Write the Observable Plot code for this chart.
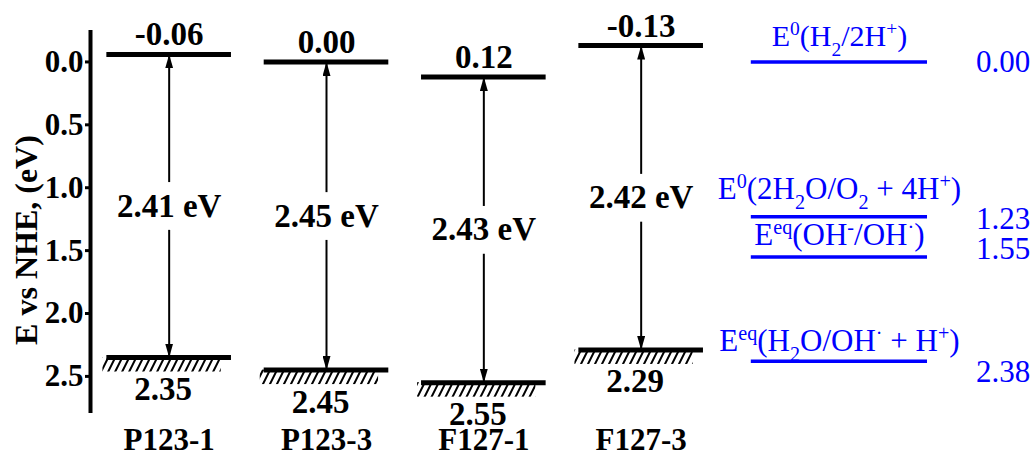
<!DOCTYPE html>
<html><head><meta charset="utf-8">
<script src="https://cdn.jsdelivr.net/npm/d3@7"></script>
<script src="https://cdn.jsdelivr.net/npm/@observablehq/plot@0.6"></script>
<style>
body{margin:0;background:#fff;}
#chart svg{display:block;}
#chart svg, #chart svg text, #chart svg tspan {font-family:"Liberation Serif","Times New Roman",serif !important;}
g[aria-label="y-axis"] text, g[aria-label="y-axis tick label"] text {font-size:31px;}
g[aria-label="y-axis"] line, g[aria-label="y-axis tick"] path {stroke-width:3px;}
</style></head><body>
<svg width="0" height="0" style="position:absolute">
<defs>
<pattern id="hatch" patternUnits="userSpaceOnUse" width="7" height="14">
<path d="M0,14 L7,0 M-1,2 L1,-2 M6,16 L8,12" stroke="#000" stroke-width="2"/>
</pattern>
<marker id="ah" viewBox="0 0 14 8" refX="14" refY="4" markerWidth="14" markerHeight="8" markerUnits="userSpaceOnUse" orient="auto">
<path d="M0,0 L14,4 L0,8 Z" fill="#000"/>
</marker>
</defs></svg>
<div id="chart"></div>
<script>
// ---- data ----
const samples = ["P123-1", "P123-3", "F127-1", "F127-3"];
const cbEnergy = [-0.06, 0.00, 0.12, -0.13];
const vbEnergy = [2.35, 2.45, 2.55, 2.29];
const cbLabels = ["-0.06", "0.00", "0.12", "-0.13"];
const vbLabels = ["2.35", "2.45", "2.55", "2.29"];
const gapLabels = ["2.41 eV", "2.45 eV", "2.43 eV", "2.42 eV"];
const refNames = [
  "E^{0}(H_{2}/2H^{+})",
  "E^{0}(2H_{2}O/O_{2} + 4H^{+})",
  "E^{eq}(OH^{-}/OH^{·})",
  "E^{eq}(H_{2}O/OH^{·} + H^{+})"
];
const refEnergy = [0.00, 1.23, 1.55, 2.38];
const refLabels = ["0.00", "1.23", "1.55", "2.38"];
const yTicks = [0, 0.5, 1.0, 1.5, 2.0, 2.5];
const yTitle = "E vs NHE, (eV)";

// ---- layout / style ----
const blue = "#0000ff";
const serif = "Liberation Serif, Times New Roman, serif";
const idx = d3.range(samples.length);
const refIdx = d3.range(refNames.length);
const halfW = 0.396;
const gap = 0.19;
const mid = i => (cbEnergy[i] + vbEnergy[i]) / 2;
const xDomain = [-0.5, 5.5];
const yDomain = [-0.25, 2.795];
const refX1 = 3.7, refX2 = 4.82, refValX = 5.3;
const refNameDy = [-16, -18, -12, -10];
const refValDy = [0, 2, -8, 11];
const refNameSize = [30, 31, 31, 31];

const marks = [
  Plot.rect(idx, {x1: i => i - halfW - 0.025, x2: i => i + halfW - 0.065,
    y1: i => vbEnergy[i], y2: i => vbEnergy[i] + 0.115, fill: "url(#hatch)"}),
  Plot.link(idx, {x1: i => i, x2: i => i, y1: i => mid(i) - gap, y2: i => cbEnergy[i], stroke: "#000", strokeWidth: 2}),
  Plot.link(idx, {x1: i => i, x2: i => i, y1: i => mid(i) + gap, y2: i => vbEnergy[i], stroke: "#000", strokeWidth: 2}),
  Plot.ruleY(idx, {y: i => cbEnergy[i], x1: i => i - halfW, x2: i => i + halfW, stroke: "#000", strokeWidth: 5}),
  Plot.ruleY(idx, {y: i => vbEnergy[i], x1: i => i - halfW, x2: i => i + halfW, stroke: "#000", strokeWidth: 5}),
  Plot.text(idx, {x: i => i, y: i => cbEnergy[i], text: i => cbLabels[i], lineAnchor: "bottom", dy: -9, fontSize: 33, fontWeight: "bold", fontFamily: serif, fill: "#000"}),
  Plot.text(idx, {x: i => i, y: i => vbEnergy[i], text: i => vbLabels[i], lineAnchor: "top", dy: 19, dx: -6, fontSize: 33, fontWeight: "bold", fontFamily: serif, fill: "#000"}),
  Plot.text(idx, {x: i => i, y: i => mid(i), text: i => gapLabels[i], fontSize: 33, fontWeight: "bold", fontFamily: serif, fill: "#000"}),
  Plot.ruleX([xDomain[0]], {x: d => d, stroke: "#000", strokeWidth: 4}),
  Plot.ruleY(refIdx, {y: k => refEnergy[k], x1: () => refX1, x2: () => refX2, stroke: blue, strokeWidth: 3.5}),
  ...refIdx.map(k => Plot.text([k], {x: () => (refX1 + refX2) / 2, y: k => refEnergy[k], text: k => refNames[k],
    lineAnchor: "bottom", dy: refNameDy[k], fontSize: refNameSize[k], fontWeight: "normal", fontFamily: serif, fill: blue})),
  ...refIdx.map(k => Plot.text([k], {x: () => refValX, y: k => refEnergy[k], text: k => refLabels[k],
    dy: refValDy[k], fontSize: 31, fontWeight: "normal", fontFamily: serif, fill: blue})),
  Plot.text([yTitle], {frameAnchor: "left", textAnchor: "middle", text: d => d, rotate: -90, dx: -64, dy: 18, fontSize: 32, fontWeight: "bold", fontFamily: serif, fill: "#000"})
];

const chart = Plot.plot({
  width: 1034, height: 455,
  marginLeft: 90, marginRight: 0, marginTop: 30, marginBottom: 42,
  style: {fontFamily: serif, fontWeight: "bold", fontSize: "31px", color: "#000", background: "#fff", overflow: "visible"},
  x: {type: "linear", domain: xDomain, ticks: idx, tickFormat: i => samples[i], tickSize: 0, tickPadding: 14, label: null},
  y: {domain: yDomain, reverse: true, ticks: yTicks, tickFormat: d3.format(".1f"), tickSize: 5, tickPadding: 2, label: null},
  marks
});

// arrowheads on the gap arrows
d3.select(chart).selectAll('g[aria-label="link"] path').attr("marker-end", "url(#ah)");

// sub/superscripts in the reference labels
const NS = "http://www.w3.org/2000/svg";
function richify(el) {
  const s = el.textContent;
  if (!/[\^_]\{/.test(s)) return;
  const parts = s.split(/(\^\{[^}]*\}|_\{[^}]*\})/).filter(p => p.length);
  el.textContent = "";
  let shift = 0;
  for (const p of parts) {
    let target = 0, str = p, small = false;
    if (p.startsWith("^{")) { target = -11; str = p.slice(2, -1); small = true; }
    else if (p.startsWith("_{")) { target = 10; str = p.slice(2, -1); small = true; }
    const ts = document.createElementNS(NS, "tspan");
    ts.setAttribute("dy", target - shift);
    if (small) ts.setAttribute("font-size", "65%");
    ts.textContent = str;
    el.appendChild(ts);
    shift = target;
  }
}
d3.select(chart).selectAll("text").each(function () { richify(this); });

document.getElementById("chart").appendChild(chart);
</script>
</body></html>
